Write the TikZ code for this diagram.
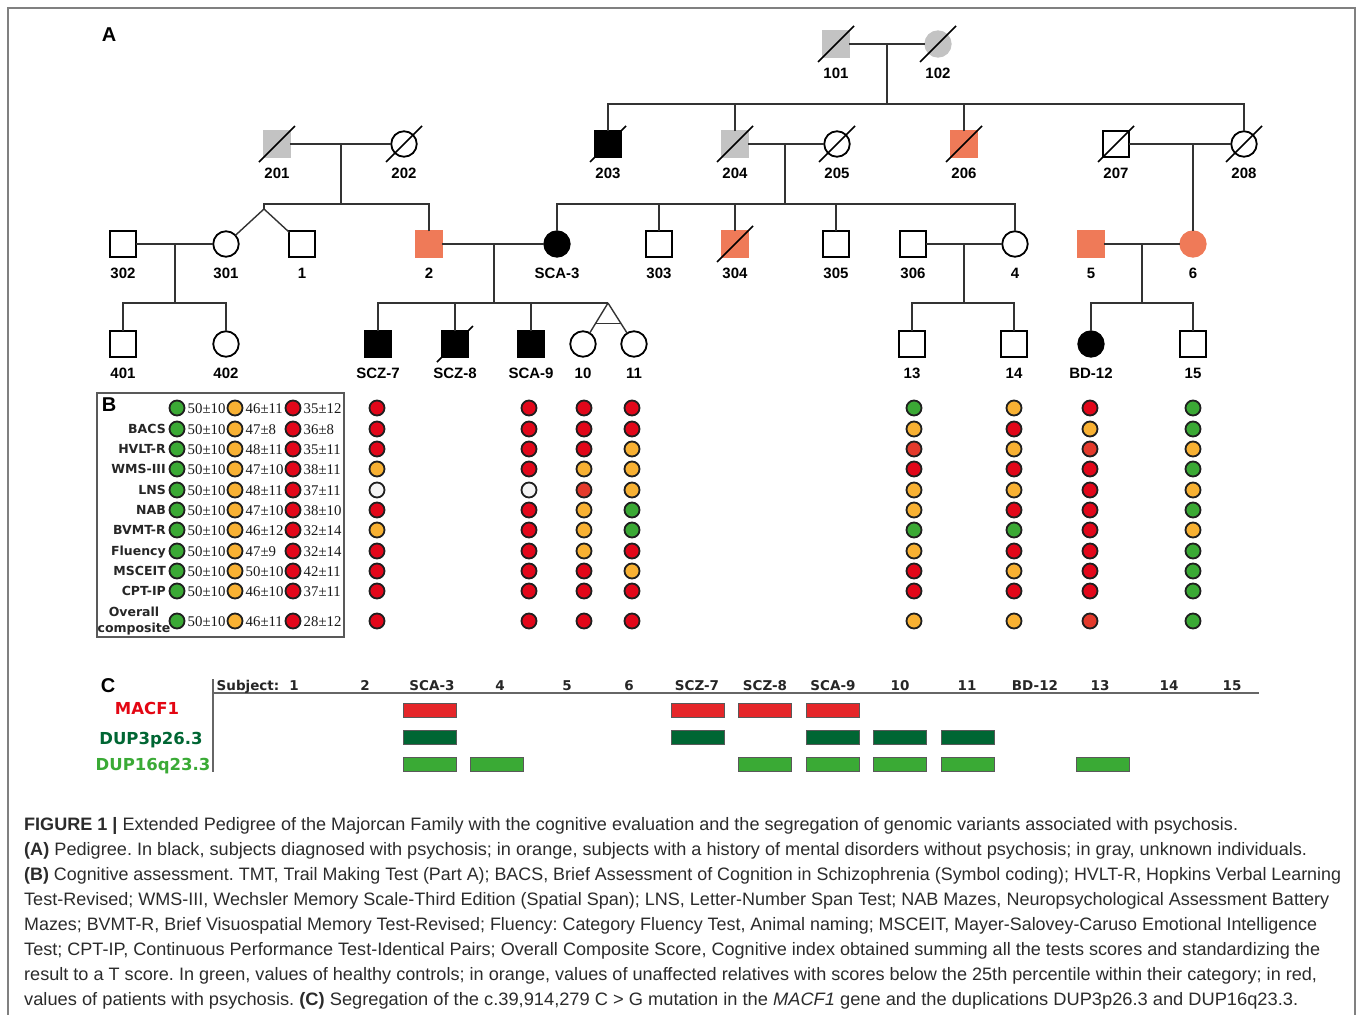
\documentclass[tikz,border=0pt]{standalone}
\usepackage{fontspec}
\usepackage{graphicx}
\setmainfont{Liberation Sans}
\newfontfamily\verd{DejaVu Sans}
\newfontfamily\serf{Liberation Serif}
\usetikzlibrary{calc}
\frenchspacing
\definecolor{pgray}{HTML}{C3C3C3}
\definecolor{porange}{HTML}{EF7A58}
\definecolor{cG}{HTML}{3BA935}
\definecolor{cO}{HTML}{F8B133}
\definecolor{cR}{HTML}{E2071A}
\definecolor{cQ}{HTML}{E43A2C}
\definecolor{cW}{HTML}{F4F4F4}
\definecolor{barred}{HTML}{E52629}
\definecolor{bardk}{HTML}{006633}
\definecolor{barlt}{HTML}{3AAA35}
\definecolor{macred}{HTML}{E30613}
\definecolor{capcol}{HTML}{2B2B2B}
\newsavebox\capbox
\newlength\caplen
\newcommand\capline[2]{\sbox\capbox{#2}\setlength\caplen{\wd\capbox}\pgfmathsetmacro\capratio{#1/\caplen}\scalebox{\capratio}[1]{\usebox\capbox}}
\newcommand\person[5]{%
  \node[#2] (p#1) at (#3,#4) {};
  \node[plab] (l#1) at (#3,#4+29) {#5};}
\newcommand\dead[1]{\draw[dec] ([shift={(-18pt,-18pt)}]p#1.center) -- ([shift={(18pt,18pt)}]p#1.center);}
\newcommand\dotcol[2]{%
  \foreach \c [count=\i] in {#2} {%
    \pgfmathsetmacro\yy{{408,429,449,469,490,510,530,551,571,591,621}[\i-1]}
    \node[dot, fill=c\c] (d#1-\i) at (#1,\yy) {};}}
\newcommand\legrow[5]{%
  \node[dot,fill=cG] (lg#1) at (177,#2) {};
  \node[dot,fill=cO] (lo#1) at (235,#2) {};
  \node[dot,fill=cR] (lr#1) at (293,#2) {};
  \node[num] (na#1) at (187.5,#2+5) {#3};
  \node[num] (nb#1) at (245.5,#2+5) {#4};
  \node[num] (nc#1) at (303.5,#2+5) {#5};}
\tikzset{
  sym/.style={draw=black, line width=1.8pt, inner sep=0pt, outer sep=0pt},
  male/.style={sym, rectangle, minimum size=25.5pt},
  female/.style={sym, circle, minimum size=25.5pt},
  pline/.style={draw=black!80, line width=1.4pt},
  dec/.style={draw=black, line width=1.6pt},
  plab/.style={inner sep=0pt, font=\fontsize{15}{15}\selectfont\bfseries},
  dot/.style={circle, draw=black!88, line width=1.8pt, minimum size=15pt, inner sep=0pt},
  num/.style={anchor=base west, inner sep=0pt, text=black!90, font=\serf\fontsize{14.8}{16}\selectfont},
  lname/.style={anchor=base east, inner sep=0pt, text=black!85, font=\verd\bfseries\fontsize{12.5}{12.5}\selectfont},
  hdr/.style={anchor=base, inner sep=0pt, text=black!85, font=\verd\bfseries\fontsize{13.5}{14}\selectfont},
  rlab/.style={anchor=base, inner sep=0pt, font=\verd\bfseries\fontsize{16.5}{17}\selectfont},
  bar/.style={rectangle, draw=black!65, line width=0.9pt, minimum width=53pt, minimum height=14pt, inner sep=0pt},
  panel/.style={inner sep=0pt, font=\fontsize{20}{20}\selectfont\bfseries},
  capnode/.style={anchor=base west, inner sep=0pt, text=capcol, font=\fontsize{18}{20}\selectfont}
}
\begin{document}
\begin{tikzpicture}[x=1pt,y=-1pt]
\useasboundingbox (0,0) rectangle (1358,1015);
\draw[draw=black!50, line width=1.5pt] (8,1015) -- (8,8) -- (1355,8) -- (1355,1015);

\node[panel] (A) at (109,35) {A};
% Generation I
\person{101}{male,fill=pgray,draw=pgray}{836}{44}{101}
\person{102}{female,fill=pgray,draw=pgray}{938}{44}{102}
% Generation II
\person{201}{male,fill=pgray,draw=pgray}{277}{144}{201}
\person{202}{female}{404}{144}{202}
\person{203}{male,fill=black}{608}{144}{203}
\person{204}{male,fill=pgray,draw=pgray}{735}{144}{204}
\person{205}{female}{837}{144}{205}
\person{206}{male,fill=porange,draw=porange}{964}{144}{206}
\person{207}{male}{1116}{144}{207}
\person{208}{female}{1244}{144}{208}
% Generation III
\person{302}{male}{123}{244}{302}
\person{301}{female}{226}{244}{301}
\person{1}{male}{302}{244}{1}
\person{2}{male,fill=porange,draw=porange}{429}{244}{2}
\person{SCA3}{female,fill=black}{557}{244}{SCA-3}
\person{303}{male}{659}{244}{303}
\person{304}{male,fill=porange,draw=porange}{735}{244}{304}
\person{305}{male}{836}{244}{305}
\person{306}{male}{913}{244}{306}
\person{4}{female}{1015}{244}{4}
\person{5}{male,fill=porange,draw=porange}{1091}{244}{5}
\person{6}{female,fill=porange,draw=porange}{1193}{244}{6}
% Generation IV
\person{401}{male}{123}{344}{401}
\person{402}{female}{226}{344}{402}
\person{SCZ7}{male,fill=black}{378}{344}{SCZ-7}
\person{SCZ8}{male,fill=black}{455}{344}{SCZ-8}
\person{SCA9}{male,fill=black}{531}{344}{SCA-9}
\person{10}{female}{583}{344}{10}
\person{11}{female}{634}{344}{11}
\person{13}{male}{912}{344}{13}
\person{14}{male}{1014}{344}{14}
\person{BD12}{female,fill=black}{1091}{344}{BD-12}
\person{15}{male}{1193}{344}{15}

% deceased marks
\foreach \n in {101,102,201,202,203,204,205,206,207,208,304,SCZ8} {\dead{\n}}

% connectors
\coordinate (m1) at (887,44); \coordinate (s1) at (887,104);
\draw[pline] (p101) -- (p102);
\draw[pline] (m1) -- (s1);
\draw[pline] (p203.north) |- (s1);
\draw[pline] (p208.north) |- (s1);
\draw[pline] (p204.north) -- (p204.north |- s1);
\draw[pline] (p206.north) -- (p206.north |- s1);

\coordinate (m2) at (341,144); \coordinate (s2) at (341,204);
\coordinate (tw1top) at (264,204); \coordinate (tw1) at (264,209);
\draw[pline] (p201) -- (p202);
\draw[pline] (m2) -- (s2);
\draw[pline] (p2.north) |- (tw1top) -- (tw1);
\draw[pline] (tw1) -- (p301);
\draw[pline] (tw1) -- (p1);

\coordinate (m3) at (785,144); \coordinate (s3) at (785,204);
\draw[pline] (p204) -- (p205);
\draw[pline] (m3) -- (s3);
\draw[pline] (pSCA3.north) |- (s3);
\draw[pline] (p4.north) |- (s3);
\draw[pline] (p303.north) -- (p303.north |- s3);
\draw[pline] (p304.north) -- (p304.north |- s3);
\draw[pline] (p305.north) -- (p305.north |- s3);

\coordinate (m4) at (1193,144);
\draw[pline] (p207) -- (p208);
\draw[pline] (m4) -- (p6.north);

\coordinate (m5) at (175,244); \coordinate (s5) at (175,303);
\draw[pline] (p302) -- (p301);
\draw[pline] (m5) -- (s5);
\draw[pline] (p401.north) |- (s5);
\draw[pline] (p402.north) |- (s5);

\coordinate (m6) at (494,244); \coordinate (s6) at (494,303); \coordinate (tw2) at (608,303);
\draw[pline] (p2) -- (pSCA3);
\draw[pline] (m6) -- (s6);
\draw[pline] (pSCZ7.north) |- (tw2);
\draw[pline] (pSCZ8.north) -- (pSCZ8.north |- s6);
\draw[pline] (pSCA9.north) -- (pSCA9.north |- s6);
\draw[pline] (tw2) -- (p10);
\draw[pline] (tw2) -- (p11);
\draw[pline] ($(tw2)!0.5!(p10)$) -- ($(tw2)!0.5!(p11)$);

\coordinate (m7) at (964,244); \coordinate (s7) at (964,303);
\draw[pline] (p306) -- (p4);
\draw[pline] (m7) -- (s7);
\draw[pline] (p13.north) |- (s7);
\draw[pline] (p14.north) |- (s7);

\coordinate (m8) at (1142,244); \coordinate (s8) at (1142,303);
\draw[pline] (p5) -- (p6);
\draw[pline] (m8) -- (s8);
\draw[pline] (pBD12.north) |- (s8);
\draw[pline] (p15.north) |- (s8);

% Panel B legend
\node[draw=black!65, line width=1.5pt, minimum width=247pt, minimum height=244pt, inner sep=0pt] (legbox) at (220.5,515) {};
\node[panel] (B) at (109,405) {B};
\legrow{1}{408}{50±10}{46±11}{35±12}
\legrow{2}{429}{50±10}{47±8}{36±8}
\legrow{3}{449}{50±10}{48±11}{35±11}
\legrow{4}{469}{50±10}{47±10}{38±11}
\legrow{5}{490}{50±10}{48±11}{37±11}
\legrow{6}{510}{50±10}{47±10}{38±10}
\legrow{7}{530}{50±10}{46±12}{32±14}
\legrow{8}{551}{50±10}{47±9}{32±14}
\legrow{9}{571}{50±10}{50±10}{42±11}
\legrow{10}{591}{50±10}{46±10}{37±11}
\legrow{11}{621}{50±10}{46±11}{28±12}
\node[lname] (n2) at (166,433.5) {BACS};
\node[lname] (n3) at (166,453.5) {HVLT-R};
\node[lname] (n4) at (166,473.5) {WMS-III};
\node[lname] (n5) at (166,494.5) {LNS};
\node[lname] (n6) at (166,514.5) {NAB};
\node[lname] (n7) at (166,534.5) {BVMT-R};
\node[lname] (n8) at (166,555.5) {Fluency};
\node[lname] (n9) at (166,575.5) {MSCEIT};
\node[lname] (n10) at (166,595.5) {CPT-IP};
\node[lname, anchor=center, align=center, font=\verd\bfseries\fontsize{12.5}{16}\selectfont] (n11) at (134,621) {Overall\\composite};

% dot columns
\dotcol{377}{R,R,R,O,W,R,O,R,R,R,R}
\dotcol{529}{R,R,R,R,W,R,R,R,R,R,R}
\dotcol{584}{R,R,R,O,Q,O,O,O,R,R,R}
\dotcol{632}{R,R,O,O,O,G,G,R,O,R,R}
\dotcol{914}{G,O,Q,R,O,O,G,O,R,R,O}
\dotcol{1014}{O,R,O,R,O,R,G,R,O,R,O}
\dotcol{1090}{R,O,Q,R,R,R,R,R,R,R,Q}
\dotcol{1193}{G,G,O,G,O,G,O,G,G,G,G}

% Panel C
\node[panel] (C) at (108,686) {C};
\coordinate (vt) at (213,679); \coordinate (vb) at (213,772);
\coordinate (hl) at (213,693); \coordinate (hr) at (1259,693);
\draw[draw=black!60, line width=1.5pt] (vt) -- (vb);
\draw[draw=black!60, line width=1.5pt] (hl) -- (hr);
\node[hdr] (hS) at (248,690) {Subject:};
\node[hdr] (h1) at (294,690) {1};
\node[hdr] (h2) at (365,690) {2};
\node[hdr] (h3) at (432,690) {SCA-3};
\node[hdr] (h4) at (500,690) {4};
\node[hdr] (h5) at (567,690) {5};
\node[hdr] (h6) at (629,690) {6};
\node[hdr] (h7) at (697,690) {SCZ-7};
\node[hdr] (h8) at (765,690) {SCZ-8};
\node[hdr] (h9) at (833,690) {SCA-9};
\node[hdr] (h10) at (900,690) {10};
\node[hdr] (h11) at (967,690) {11};
\node[hdr] (h12) at (1035,690) {BD-12};
\node[hdr] (h13) at (1100,690) {13};
\node[hdr] (h14) at (1169,690) {14};
\node[hdr] (h15) at (1232,690) {15};
\node[rlab, text=macred] (rM) at (147,714) {MACF1};
\node[rlab, text=bardk] (rD3) at (151,744) {DUP3p26.3};
\node[rlab, text=barlt] (rD16) at (153,770) {DUP16q23.3};
% bars
\node[bar, fill=barred] (bm3) at (430,710) {};
\node[bar, fill=barred] (bm7) at (698,710) {};
\node[bar, fill=barred] (bm8) at (765,710) {};
\node[bar, fill=barred] (bm9) at (833,710) {};
\node[bar, fill=bardk] (bd3) at (430,737) {};
\node[bar, fill=bardk] (bd7) at (698,737) {};
\node[bar, fill=bardk] (bd9) at (833,737) {};
\node[bar, fill=bardk] (bd10) at (900,737) {};
\node[bar, fill=bardk] (bd11) at (968,737) {};
\node[bar, fill=barlt] (bl3) at (430,764) {};
\node[bar, fill=barlt] (bl4) at (497,764) {};
\node[bar, fill=barlt] (bl8) at (765,764) {};
\node[bar, fill=barlt] (bl9) at (833,764) {};
\node[bar, fill=barlt] (bl10) at (900,764) {};
\node[bar, fill=barlt] (bl11) at (968,764) {};
\node[bar, fill=barlt] (bl13) at (1103,764) {};

% caption
\node[capnode] (c1) at (24,830) {\capline{1214}{\textbf{FIGURE 1 |} Extended Pedigree of the Majorcan Family with the cognitive evaluation and the segregation of genomic variants associated with psychosis.}};
\node[capnode] (c2) at (24,855) {\capline{1283}{\textbf{(A)} Pedigree. In black, subjects diagnosed with psychosis; in orange, subjects with a history of mental disorders without psychosis; in gray, unknown individuals.}};
\node[capnode] (c3) at (24,880) {\capline{1317}{\textbf{(B)} Cognitive assessment. TMT, Trail Making Test (Part A); BACS, Brief Assessment of Cognition in Schizophrenia (Symbol coding); HVLT-R, Hopkins Verbal Learning}};
\node[capnode] (c4) at (24,905) {\capline{1305}{Test-Revised; WMS-III, Wechsler Memory Scale-Third Edition (Spatial Span); LNS, Letter-Number Span Test; NAB Mazes, Neuropsychological Assessment Battery}};
\node[capnode] (c5) at (24,930) {\capline{1293}{Mazes; BVMT-R, Brief Visuospatial Memory Test-Revised; Fluency: Category Fluency Test, Animal naming; MSCEIT, Mayer-Salovey-Caruso Emotional Intelligence}};
\node[capnode] (c6) at (24,955) {\capline{1296}{Test; CPT-IP, Continuous Performance Test-Identical Pairs; Overall Composite Score, Cognitive index obtained summing all the tests scores and standardizing the}};
\node[capnode] (c7) at (24,980) {\capline{1293}{result to a T score. In green, values of healthy controls; in orange, values of unaffected relatives with scores below the 25th percentile within their category; in red,}};
\node[capnode] (c8) at (24,1005) {\capline{1274}{values of patients with psychosis. \textbf{(C)} Segregation of the c.39,914,279 C > G mutation in the \textit{MACF1} gene and the duplications DUP3p26.3 and DUP16q23.3.}};
\end{tikzpicture}
\end{document}
